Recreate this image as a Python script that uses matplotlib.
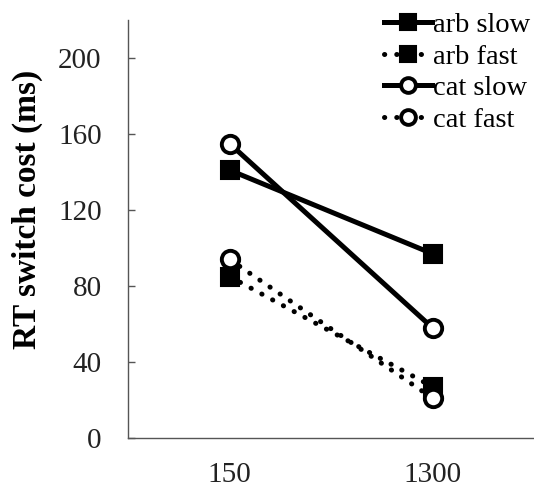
import matplotlib
matplotlib.use("Agg")
import matplotlib.pyplot as plt

categories = ["150", "1300"]
arb_slow = [141, 97]
arb_fast = [85, 27]
cat_slow = [155, 58]
cat_fast = [94, 21]
yticks = [0, 40, 80, 120, 160, 200]

plt.rcParams['font.family'] = ['Liberation Serif', 'DejaVu Serif']

fig = plt.figure(figsize=(5.34, 4.88), dpi=100)
ax = fig.add_axes([128/534, 50/488, 406/534, 418/488])

x = list(range(len(categories)))
lw = 3.6
dot = (0, (0.05, 2.4))
ax.plot(x, arb_slow, '-', color='black', lw=lw, marker='s', ms=13,
        mfc='black', mec='black', mew=1.5, label='arb slow')
ax.plot(x, arb_fast, color='black', lw=lw, ls=dot, dash_capstyle='round',
        marker='s', ms=13, mfc='black', mec='black', mew=1.5, label='arb fast')
ax.plot(x, cat_slow, '-', color='black', lw=lw, marker='o', ms=12.5,
        mfc='white', mec='black', mew=2.8, label='cat slow')
ax.plot(x, cat_fast, color='black', lw=lw, ls=dot, dash_capstyle='round',
        marker='o', ms=12.5, mfc='white', mec='black', mew=2.8, label='cat fast')

ax.set_xlim(-0.5, 1.5)
ax.set_ylim(0, 220)
ax.set_xticks(x)
ax.set_xticklabels(categories)
ax.set_yticks(yticks)
ax.tick_params(axis='x', length=0, labelsize=21, pad=17.5, labelcolor='#222222')
ax.tick_params(axis='y', direction='in', length=5, width=1, labelsize=21, pad=19,
               color='#555555', labelcolor='#222222')
for s in ['top', 'right']:
    ax.spines[s].set_visible(False)
for s in ['left', 'bottom']:
    ax.spines[s].set_color('#555555')
    ax.spines[s].set_linewidth(1)

ax.set_ylabel('RT switch cost (ms)', fontsize=24, fontweight='bold')
ax.yaxis.set_label_coords(-0.21, 0.548)

leg = ax.legend(loc='upper right', bbox_to_anchor=(1.02, 1.046), frameon=False,
                fontsize=20.5, handlelength=1.7, handletextpad=0.05,
                labelspacing=0.2, borderaxespad=0.0, markerscale=0.85)

fig.savefig('out.png', dpi=100)
